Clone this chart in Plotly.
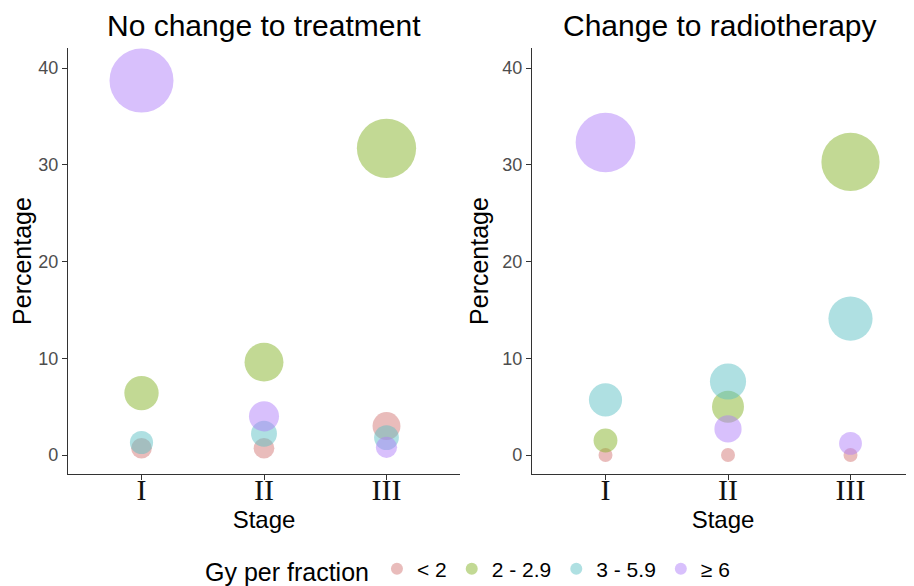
import numpy as np
import plotly.graph_objects as go

stages = ["I", "II", "III"]
groups = ["< 2", "2 - 2.9", "3 - 5.9", "≥ 6"]
colors = ["rgba(211,119,116,0.7)", "rgba(131,178,36,0.7)",
          "rgba(92,192,195,0.7)", "rgba(176,126,248,0.7)"]

# Percentages per stage (I, II, III) for each dose group
no_change_lt2 = [0.7, 0.7, 3.0]
no_change_2_29 = [6.4, 9.6, 31.7]
no_change_3_59 = [1.3, 2.2, 1.8]
no_change_ge6 = [38.7, 4.0, 0.8]

radio_lt2 = [0.0, 0.0, 0.0]
radio_2_29 = [1.5, 5.0, 30.3]
radio_3_59 = [5.7, 7.6, 14.1]
radio_ge6 = [32.3, 2.7, 1.2]

panels = [
    ("No change to treatment", [no_change_lt2, no_change_2_29, no_change_3_59, no_change_ge6]),
    ("Change to radiotherapy", [radio_lt2, radio_2_29, radio_3_59, radio_ge6]),
]

all_vals = np.array([v for _, s in panels for arr in s for v in arr])
vmax = all_vals.max()
dmin, dmax = 14, 64


def sizes(vals):
    return [dmin + (dmax - dmin) * np.sqrt(v / vmax) for v in vals]


fig = go.Figure()
for p, (title, series) in enumerate(panels):
    xa = "x" if p == 0 else "x2"
    ya = "y" if p == 0 else "y2"
    for g, vals in enumerate(series):
        fig.add_trace(go.Scatter(
            x=[i + 1 for i in range(len(stages))], y=vals, mode="markers",
            xaxis=xa, yaxis=ya,
            name=groups[g], legendgroup=groups[g], showlegend=(p == 0),
            marker=dict(color=colors[g], size=sizes(vals), line=dict(width=0)),
        ))

# page body has an 8px margin; figure lives at (8, 8)
OFF = 8
W, H = 914 - OFF, 586 - OFF


def px(xp):
    return (xp - OFF) / W


def py(yp):
    return (586 - yp) / H


left_dom = [px(68), px(460)]
right_dom = [px(532), 1.0]
ydom = [py(474), py(48)]

axis_common = dict(showline=True, linecolor="#333333", linewidth=1.3,
                   ticks="outside", ticklen=5, tickcolor="#333333",
                   showgrid=False, zeroline=False)

xcommon = dict(axis_common, tickmode="array", tickvals=[1, 2, 3], ticktext=stages,
               ticklabelstandoff=-16,
               tickfont=dict(family="Liberation Serif", size=30, color="#111111"),
               title=dict(text="Stage", font=dict(family="Liberation Sans", size=24, color="#000000"), standoff=0))
ycommon = dict(axis_common, range=[-1.96, 42.07], tickvals=[0, 10, 20, 30, 40],
               tickfont=dict(family="Liberation Sans", size=18, color="#4d4d4d"),
               title=dict(text="Percentage", font=dict(family="Liberation Sans", size=25, color="#000000"), standoff=6))

fig.update_layout(
    width=W, height=H, margin=dict(l=0, r=0, t=0, b=0, autoexpand=False),
    plot_bgcolor="white", paper_bgcolor="white",
    xaxis=dict(xcommon, domain=left_dom, range=[0.4, 3.6], anchor="y"),
    yaxis=dict(ycommon, domain=ydom, anchor="x"),
    xaxis2=dict(xcommon, domain=right_dom, range=[0.4, 0.4 + 382 / 122.5], anchor="y2"),
    yaxis2=dict(ycommon, domain=ydom, anchor="x2"),
    legend=dict(orientation="h", x=px(203), xanchor="left",
                y=py(570), yanchor="middle",
                title=dict(text="Gy per fraction", font=dict(family="Liberation Sans", size=25, color="#000000")),
                font=dict(family="Liberation Sans", size=21, color="#000000"),
                itemsizing="constant"),
    showlegend=True,
)

title_centers = [264, 720]
for p, (title, _) in enumerate(panels):
    fig.add_annotation(text=title, x=px(title_centers[p]), y=py(25),
                       xref="paper", yref="paper", showarrow=False,
                       xanchor="center", yanchor="middle",
                       font=dict(family="Liberation Sans", size=30, color="#000000"))

fig.write_html("out.html")
